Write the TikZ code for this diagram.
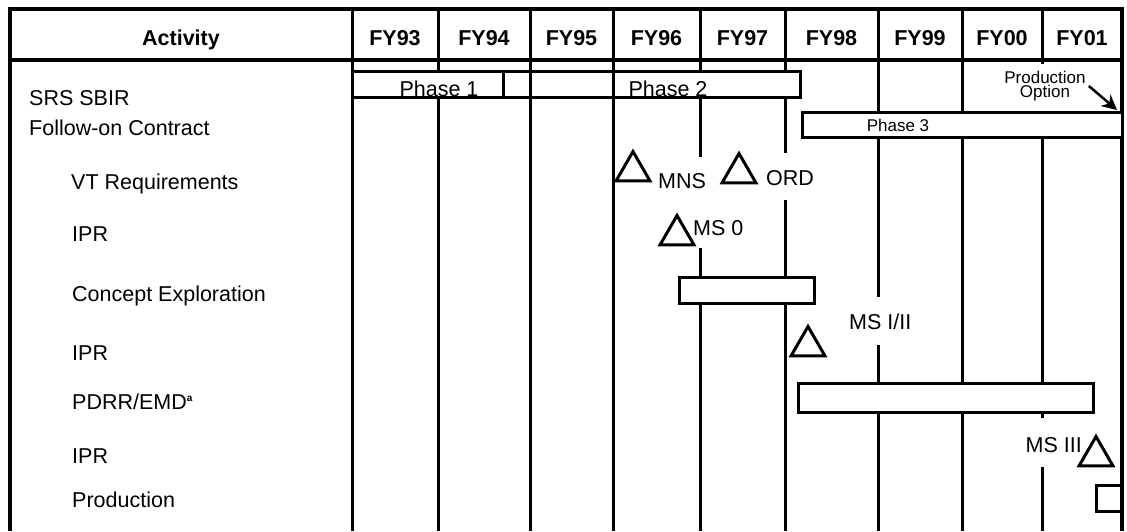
\documentclass[tikz,border=0pt]{standalone}
\usepackage{fontspec}
\setmainfont{Liberation Sans}
\usetikzlibrary{
  shapes.geometric,
  arrows.meta,
  positioning
}
\newcommand{\chartfont}{\fontsize{21.5}{25}\selectfont}
\newcommand{\notefont}{\fontsize{17}{14}\selectfont}
\tikzset{>=latex}
\tikzset{
  frameline/.style={line width=3.5pt},
  gridline/.style={line width=3pt},
  bar/.style={draw, fill=white, line width=3pt},
  milestone/.style={draw, regular polygon, regular polygon sides=3,
    minimum size=39pt, inner sep=0pt, line width=3pt},
  rowlabel/.style={anchor=base west, inner sep=0pt, font=\chartfont},
  headlabel/.style={anchor=base, inner sep=0pt, font=\chartfont\bfseries},
  mslabel/.style={inner sep=0pt, font=\chartfont},
  notelabel/.style={inner sep=0pt, font=\notefont},
  optarrow/.style={-{Stealth[length=15pt,width=15pt]}, line width=2.5pt}
}

\begin{document}
\begin{tikzpicture}[x=1pt, y=-1pt]
  \useasboundingbox (0,0) rectangle (1127,531);
  % frame and header
  \draw[frameline] (10,531) -- (10,9) -- (1122,9) -- (1122,531);
  \draw[frameline] (10,60) -- (1122,60);
  % year columns
  \foreach \x/\ya/\yb in {352/9/531, 438/9/531, 530/9/531, 613/9/531,
      700/9/157, 700/248/531, 785/9/153, 785/200/531,
      878/9/297, 878/345/531, 962/9/531,
      1042/9/64, 1042/137/418, 1042/467/531}
    \draw[gridline] (\x,\ya) -- (\x,\yb);
  \node[headlabel] (activity) at (181,45) {Activity};
  \foreach \xa/\xb/\yr in {352/438/93, 438/530/94, 530/613/95, 613/700/96,
      700/785/97, 785/878/98, 878/962/99, 962/1042/00, 1042/1122/01}
    \node[headlabel] (fy\yr) at ({(\xa+\xb)/2},45) {FY\yr};
  % bars
  \draw[bar] (352,71) rectangle (800,97);
  \foreach \x in {503, 530, 613}
    \draw[gridline] (\x,71) -- (\x,97);
  \draw[bar] (802,112) rectangle (1122,137);
  \draw[bar] (679,277) rectangle (814,303);
  \draw[bar] (798,383) rectangle (1093,412);
  \draw[bar] (1096,485) rectangle (1121,511);
  \node[mslabel, anchor=base] (phaseone) at (439,96) {Phase 1};
  \node[mslabel, anchor=base] (phasetwo) at (668,96) {Phase 2};
  \node[notelabel, anchor=base] (phasethree) at (898,131) {Phase 3};
  \node[notelabel, align=center, inner sep=3pt] (prodopt) at (1045,86) {Production\\Option};
  \coordinate (optend) at (1117,110);
  \draw[optarrow] (prodopt.east) -- (optend);
  % activities
  \node[rowlabel] (srs) at (29,105.5) {SRS SBIR};
  \node[rowlabel] (followon) at (29,135.5) {Follow-on Contract};
  \node[rowlabel] (vtreq) at (71,189.5) {VT Requirements};
  \node[rowlabel] (ipra) at (72,241.5) {IPR};
  \node[rowlabel] (concept) at (72,301.5) {Concept Exploration};
  \node[rowlabel] (iprb) at (72,360.5) {IPR};
  \node[rowlabel] (pdrr) at (72,409.5) {PDRR/EMD\textsuperscript{\fontsize{10}{10}\selectfont\bfseries a}};
  \node[rowlabel] (iprc) at (72,463.5) {IPR};
  \node[rowlabel] (production) at (72,507.5) {Production};
  % milestones
  \node[milestone] (mns) at (633,171) {};
  \node[milestone] (ord) at (739,173) {};
  \node[milestone] (mszero) at (677,235) {};
  \node[milestone] (msone) at (808,346) {};
  \node[milestone] (msthree) at (1096,456) {};
  \node[mslabel, anchor=west] (mnslabel) at (658,181) {MNS};
  \node[mslabel, anchor=west] (ordlabel) at (766,178) {ORD};
  \node[mslabel, anchor=west] (mszerolabel) at (693,228) {MS 0};
  \node[mslabel, anchor=west] (msonelabel) at (849,322) {MS I/II};
  \node[mslabel, anchor=east] (msthreelabel) at (1082,445) {MS III};
\end{tikzpicture}
\end{document}
